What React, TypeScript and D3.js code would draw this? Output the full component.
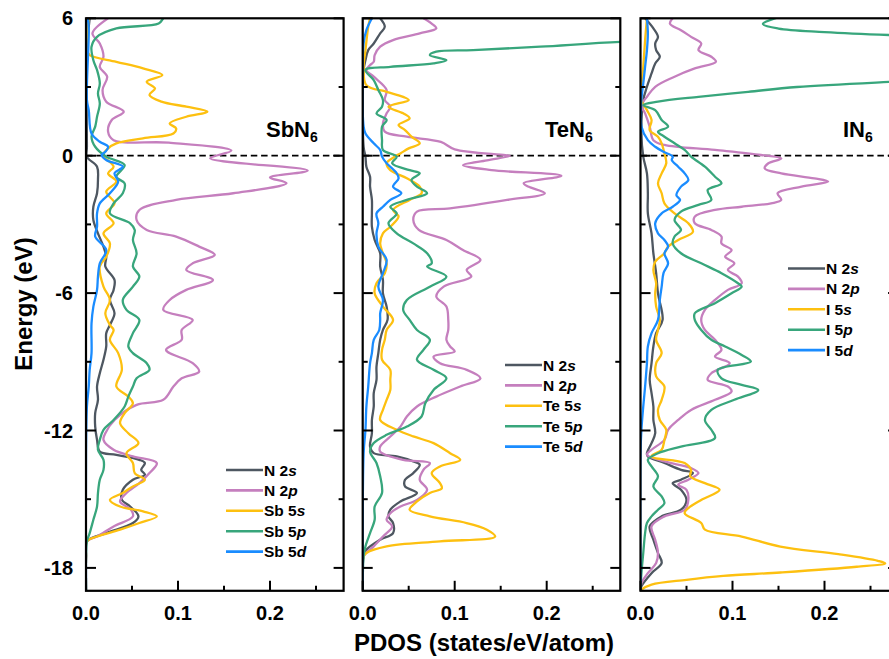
import React from 'react';
import * as d3 from 'd3';

// Each series: [energy (eV), PDOS (states/eV/atom)] listed from top to bottom
type Pt = [number, number];

// ---------- SbN6 ----------
const sbN2s: Pt[] = [[6,.004],[4.6,.001],[0.4,.001],[-0.05,.001],[-0.48,.012],[-1.06,.013],[-1.64,.012],[-2.23,.008],[-2.81,.008],[-3.39,.013],[-3.97,.019],[-4.41,.022],[-4.84,.021],[-5.43,.031],[-5.86,.030],[-6.3,.026],[-6.88,.031],[-7.39,.026],[-7.75,.022],[-8.33,.022],[-8.91,.019],[-9.5,.015],[-10.08,.012],[-10.66,.013],[-11.24,.010],[-11.83,.010],[-12.41,.012],[-12.92,.015],[-13.06,.033],[-13.28,.058],[-13.42,.064],[-13.72,.060],[-13.93,.064],[-14.15,.051],[-14.59,.040],[-15.03,.039],[-15.32,.048],[-15.75,.057],[-16.04,.051],[-16.48,.022],[-16.84,.001],[-17.5,0],[-19,0]];
const sbN2p: Pt[] = [[6,.024],[5.34,.007],[4.9,.015],[4.32,.019],[3.88,.015],[3.45,.023],[2.87,.018],[2.36,.022],[1.92,.041],[1.56,.028],[1.05,.024],[0.68,.030],[0.57,.09],[0.22,.158],[-0.11,.135],[-0.65,.241],[-0.95,.200],[-1.2,.218],[-1.64,.160],[-1.93,.098],[-2.37,.058],[-2.81,.055],[-3.24,.066],[-3.53,.098],[-3.97,.123],[-4.33,.140],[-4.70,.116],[-4.99,.109],[-5.43,.138],[-5.86,.109],[-6.3,.091],[-6.73,.084],[-7.17,.116],[-7.61,.104],[-8.04,.104],[-8.48,.087],[-9.06,.116],[-9.43,.123],[-9.72,.104],[-10.08,.095],[-10.66,.084],[-10.88,.055],[-11.54,.031],[-12.12,.021],[-12.41,.019],[-12.84,.030],[-13.13,.051],[-13.42,.077],[-13.86,.069],[-14.3,.058],[-14.73,.044],[-15.1,.037],[-15.46,.049],[-15.75,.051],[-16.19,.030],[-16.63,.012],[-16.84,.001],[-17.5,0],[-19,0]];
const sb5s: Pt[] = [[6,.003],[4.6,.001],[4.39,.004],[4.1,.033],[3.81,.062],[3.52,.083],[3.23,.066],[2.94,.075],[2.65,.069],[2.36,.082],[2.14,.109],[1.92,.132],[1.7,.109],[1.41,.091],[1.19,.098],[0.97,.095],[0.76,.062],[0.54,.033],[0.32,.024],[0.03,.019],[-0.48,.030],[-0.77,.024],[-1.13,.033],[-1.57,.022],[-2.08,.031],[-2.52,.022],[-2.95,.030],[-3.39,.019],[-3.83,.026],[-4.41,.022],[-4.84,.015],[-5.72,.019],[-6.3,.026],[-6.88,.021],[-7.39,.026],[-7.61,.030],[-8.04,.026],[-8.62,.035],[-9.35,.039],[-10.08,.033],[-10.52,.046],[-10.81,.051],[-11.24,.042],[-11.68,.037],[-12.12,.046],[-12.55,.057],[-12.99,.044],[-13.42,.051],[-13.86,.053],[-14.15,.064],[-14.44,.051],[-14.73,.040],[-15.03,.026],[-15.32,.037],[-15.53,.062],[-15.75,.077],[-16.04,.058],[-16.33,.037],[-16.63,.012],[-16.84,.001],[-17.5,0],[-19,0]];
const sb5p: Pt[] = [[6.3,.09],[6,.084],[5.77,.079],[5.56,.033],[5.19,.012],[4.76,.006],[4.17,.008],[3.74,.012],[3.16,.015],[2.72,.013],[2.28,.015],[1.7,.012],[1.27,.010],[0.83,.006],[0.39,.010],[-0.04,.022],[-0.41,.042],[-0.92,.033],[-1.21,.042],[-1.64,.040],[-2.08,.030],[-2.52,.026],[-2.95,.048],[-3.24,.053],[-3.68,.051],[-4.26,.055],[-4.84,.051],[-5.28,.058],[-5.72,.051],[-6.3,.040],[-6.73,.044],[-7.17,.058],[-7.75,.051],[-8.33,.046],[-8.62,.051],[-9.06,.066],[-9.35,.069],[-9.72,.055],[-10.08,.051],[-10.52,.046],[-10.95,.042],[-11.54,.030],[-11.97,.019],[-12.41,.015],[-12.84,.013],[-13.28,.019],[-13.72,.019],[-14.15,.015],[-14.73,.013],[-15.32,.012],[-15.9,.008],[-16.48,.004],[-16.84,.001],[-17.5,0],[-19,0]];
const sb5d: Pt[] = [[6,.002],[5.5,.003],[2.43,.001],[1.99,.003],[0.97,.006],[0.61,.015],[0.39,.024],[0.17,.021],[0.03,.017],[-0.19,.022],[-0.48,.040],[-0.77,.031],[-1.13,.035],[-1.64,.026],[-2.08,.015],[-2.52,.012],[-3.1,.012],[-3.53,.010],[-4.12,.022],[-4.7,.015],[-5.28,.013],[-5.86,.012],[-6.59,.008],[-7.32,.006],[-8.62,.006],[-9.35,.004],[-10.08,.003],[-10.95,.001],[-12.99,0],[-19,0]];

// ---------- TeN6 ----------
const teN2s: Pt[] = [[6,.019],[5.63,.024],[5.34,.019],[4.9,.012],[4.61,.006],[4.17,.003],[3.74,.001],[0.39,.001],[-0.04,.003],[-0.48,.004],[-0.92,.008],[-1.35,.008],[-1.93,.010],[-2.52,.010],[-3.1,.010],[-3.68,.013],[-4.26,.019],[-4.84,.019],[-5.43,.022],[-6.01,.022],[-6.59,.026],[-7.17,.027],[-7.61,.022],[-8.04,.019],[-8.62,.017],[-9.21,.015],[-9.79,.015],[-10.37,.012],[-10.95,.012],[-11.54,.010],[-12.12,.010],[-12.7,.008],[-12.99,.012],[-13.13,.037],[-13.35,.055],[-13.5,.062],[-13.86,.055],[-14.15,.046],[-14.44,.046],[-14.73,.059],[-15.1,.041],[-15.46,.030],[-15.75,.028],[-16.04,.033],[-16.48,.033],[-16.77,.019],[-17.21,.004],[-17.5,.001],[-19,0]];
const teN2p: Pt[] = [[6,.066],[5.77,.075],[5.56,.080],[5.34,.062],[5.05,.033],[4.76,.019],[4.39,.013],[4.1,.012],[3.96,.008],[3.74,.004],[3.45,.012],[2.87,.026],[2.43,.024],[2.14,.030],[1.85,.026],[1.41,.022],[1.05,.024],[0.83,.048],[0.6,.085],[0.28,.100],[0.03,.155],[-0.01,.160],[-0.2,.135],[-0.41,.109],[-0.63,.140],[-0.88,.216],[-1.2,.175],[-1.35,.180],[-1.64,.198],[-1.93,.157],[-2.3,.095],[-2.44,.059],[-2.81,.055],[-3.24,.061],[-3.68,.091],[-4.12,.109],[-4.55,.128],[-4.99,.113],[-5.28,.118],[-5.72,.088],[-6.15,.080],[-6.59,.091],[-7.17,.093],[-7.61,.093],[-8.04,.091],[-8.33,.095],[-8.55,.100],[-8.77,.077],[-9.06,.084],[-9.35,.113],[-9.72,.128],[-10.08,.106],[-10.52,.080],[-10.95,.059],[-11.39,.048],[-11.83,.041],[-12.26,.030],[-12.7,.019],[-12.92,.019],[-13.28,.044],[-13.42,.073],[-13.72,.066],[-14.15,.062],[-14.59,.070],[-15.03,.059],[-15.32,.041],[-15.61,.030],[-15.9,.026],[-16.19,.032],[-16.63,.022],[-17.06,.012],[-17.5,.001],[-19,0]];
const te5s: Pt[] = [[6,.008],[5.63,.006],[4.61,.003],[3.88,.001],[3.08,.004],[2.79,.026],[2.57,.044],[2.43,.050],[2.14,.028],[1.85,.044],[1.63,.051],[1.34,.039],[1.12,.046],[0.83,.053],[0.54,.062],[0.32,.050],[0.1,.041],[-0.04,.035],[-0.33,.026],[-0.63,.030],[-0.99,.048],[-1.35,.062],[-1.64,.064],[-1.93,.051],[-2.37,.033],[-2.66,.039],[-3.1,.030],[-3.39,.022],[-3.83,.019],[-4.26,.022],[-4.7,.026],[-5.13,.024],[-5.57,.015],[-6.01,.013],[-6.59,.022],[-7.17,.033],[-7.61,.026],[-8.04,.024],[-8.48,.021],[-8.91,.021],[-9.35,.030],[-9.79,.030],[-10.23,.030],[-10.66,.026],[-11.1,.022],[-11.54,.019],[-11.97,.037],[-12.26,.055],[-12.55,.077],[-12.99,.095],[-13.28,.106],[-13.57,.084],[-13.86,.075],[-14.3,.084],[-14.52,.086],[-14.73,.073],[-15.1,.059],[-15.46,.051],[-15.75,.073],[-16.04,.113],[-16.33,.135],[-16.63,.144],[-16.84,.084],[-17.06,.026],[-17.35,.004],[-17.5,.001],[-19,0]];
const te5p: Pt[] = [[6.3,.6],[5.5,.6],[5.1,.4],[4.97,.28],[4.76,.193],[4.61,.120],[4.54,.080],[4.39,.073],[4.17,.091],[4.03,.077],[3.88,.030],[3.74,.003],[3.3,.012],[2.87,.017],[2.43,.022],[2.14,.021],[1.85,.015],[1.56,.026],[1.27,.021],[0.68,.021],[0.25,.022],[-0.04,.037],[-0.33,.032],[-0.63,.051],[-0.77,.062],[-1.06,.053],[-1.35,.059],[-1.64,.070],[-1.93,.048],[-2.23,.030],[-2.52,.037],[-2.95,.028],[-3.39,.037],[-3.83,.055],[-4.26,.070],[-4.7,.075],[-4.84,.070],[-5.28,.091],[-5.72,.073],[-6.3,.048],[-6.73,.044],[-7.17,.051],[-7.61,.059],[-8.04,.073],[-8.48,.066],[-8.91,.059],[-9.35,.077],[-9.72,.091],[-10.23,.077],[-10.81,.068],[-11.39,.064],[-11.83,.048],[-12.19,.026],[-12.55,.012],[-12.92,.008],[-13.42,.015],[-14.0,.019],[-14.73,.021],[-15.32,.013],[-15.9,.013],[-16.48,.008],[-17.06,.003],[-17.5,.001],[-19,0]];
const te5d: Pt[] = [[6,.010],[5.48,.004],[4.9,.001],[1.27,.001],[0.97,.003],[0.54,.012],[0.25,.019],[-0.04,.021],[-0.33,.026],[-0.77,.037],[-0.99,.039],[-1.35,.033],[-1.64,.042],[-1.93,.030],[-2.23,.022],[-2.52,.015],[-2.95,.017],[-3.39,.015],[-3.97,.017],[-4.55,.026],[-5.13,.022],[-5.72,.017],[-6.3,.022],[-6.88,.019],[-7.17,.019],[-7.61,.018],[-8.04,.012],[-8.62,.010],[-9.06,.008],[-10.08,.006],[-10.95,.004],[-11.97,.003],[-12.99,.001],[-19,0]];

// ---------- IN6 ----------
const iN2s: Pt[] = [[6,.005],[5.56,.014],[5.19,.019],[4.9,.016],[4.61,.017],[4.32,.021],[4.03,.016],[3.59,.012],[3.01,.007],[2.43,.003],[0.97,.001],[-0.04,.003],[-0.77,.007],[-1.64,.008],[-2.52,.008],[-3.39,.012],[-4.26,.014],[-5.13,.017],[-6.01,.019],[-7.17,.024],[-7.75,.017],[-8.33,.014],[-9.06,.012],[-9.79,.010],[-10.37,.012],[-10.95,.014],[-11.54,.014],[-12.12,.016],[-12.55,.012],[-12.99,.007],[-13.13,.008],[-13.42,.026],[-13.72,.044],[-13.86,.057],[-14.15,.044],[-14.3,.035],[-14.59,.044],[-15.03,.050],[-15.46,.044],[-15.75,.023],[-16.19,.010],[-16.77,.014],[-17.35,.019],[-17.79,.023],[-18.23,.012],[-18.8,.001],[-19,0]];
const iN2p: Pt[] = [[6,.035],[5.77,.032],[5.48,.044],[5.19,.055],[4.9,.066],[4.61,.063],[4.32,.077],[4.1,.082],[3.81,.059],[3.45,.037],[3.01,.016],[2.57,.007],[2.21,.001],[1.85,.005],[1.27,.010],[0.68,.014],[0.47,.026],[0.25,.081],[0.03,.131],[-0.12,.153],[-0.33,.139],[-0.55,.135],[-0.77,.153],[-0.99,.189],[-1.13,.204],[-1.35,.175],[-1.64,.149],[-1.93,.153],[-2.08,.142],[-2.23,.110],[-2.37,.081],[-2.66,.059],[-2.95,.059],[-3.24,.077],[-3.53,.088],[-3.83,.088],[-4.12,.099],[-4.41,.092],[-4.7,.102],[-4.99,.095],[-5.28,.106],[-5.57,.110],[-5.86,.095],[-6.3,.081],[-6.73,.070],[-7.17,.066],[-7.61,.070],[-8.04,.081],[-8.48,.088],[-8.77,.081],[-9.06,.097],[-9.5,.077],[-9.79,.073],[-10.08,.095],[-10.3,.099],[-10.66,.081],[-11.1,.055],[-11.54,.041],[-11.97,.030],[-12.41,.026],[-12.84,.012],[-13.06,.007],[-13.35,.026],[-13.64,.055],[-13.86,.063],[-14.15,.052],[-14.37,.041],[-14.59,.050],[-15.03,.052],[-15.46,.048],[-15.75,.026],[-16.19,.012],[-16.77,.016],[-17.35,.019],[-17.79,.017],[-18.23,.008],[-18.66,.001],[-19,0]];
const i5s: Pt[] = [[6,.007],[5.05,.005],[3.88,.003],[2.43,.001],[1.99,.007],[1.56,.012],[1.12,.010],[0.83,.019],[0.54,.023],[0.1,.026],[-0.33,.028],[-0.77,.023],[-1.21,.019],[-1.64,.023],[-2.08,.026],[-2.52,.037],[-2.95,.052],[-3.32,.057],[-3.68,.041],[-3.97,.030],[-4.26,.026],[-4.63,.016],[-4.99,.014],[-5.57,.017],[-6.01,.016],[-6.59,.017],[-7.17,.021],[-7.61,.019],[-8.04,.017],[-8.62,.023],[-9.06,.017],[-9.64,.017],[-10.08,.026],[-10.66,.023],[-11.1,.019],[-11.54,.021],[-11.97,.028],[-12.41,.026],[-12.84,.023],[-13.13,.012],[-13.42,.048],[-13.72,.055],[-14.0,.054],[-14.3,.070],[-14.59,.086],[-15.03,.066],[-15.39,.052],[-15.61,.048],[-16.04,.066],[-16.33,.070],[-16.63,.110],[-17.07,.152],[-17.4,.215],[-17.69,.258],[-17.8,.266],[-17.95,.235],[-18.2,.152],[-18.35,.090],[-18.52,.050],[-18.73,.012],[-18.95,.001],[-19,0]];
const i5p: Pt[] = [[6.2,.17],[6,.146],[5.75,.133],[5.55,.150],[5.4,.200],[5.27,.270],[5.0,.5],[3.6,.5],[3.22,.270],[3.0,.170],[2.79,.117],[2.57,.063],[2.36,.019],[2.21,.003],[1.99,.016],[1.56,.023],[1.27,.030],[1.05,.019],[0.83,.026],[0.54,.037],[0.25,.048],[-0.04,.055],[-0.48,.070],[-0.92,.081],[-1.21,.088],[-1.5,.073],[-1.93,.077],[-2.15,.063],[-2.44,.044],[-2.81,.037],[-3.24,.044],[-3.53,.037],[-3.83,.035],[-4.26,.044],[-4.7,.066],[-5.13,.088],[-5.57,.106],[-5.72,.110],[-6.01,.099],[-6.44,.081],[-6.88,.059],[-7.17,.059],[-7.61,.066],[-8.04,.077],[-8.33,.092],[-8.7,.110],[-8.99,.120],[-9.35,.084],[-9.72,.088],[-10.01,.110],[-10.23,.128],[-10.66,.102],[-11.1,.077],[-11.54,.070],[-11.97,.077],[-12.33,.081],[-12.7,.044],[-12.99,.019],[-13.28,.008],[-13.57,.012],[-14.0,.019],[-14.44,.014],[-14.88,.023],[-15.17,.026],[-15.46,.019],[-15.75,.012],[-16.04,.007],[-16.48,.005],[-17.35,.003],[-18.23,.001],[-19,0]];
const i5d: Pt[] = [[6,.007],[5.34,.008],[4.61,.007],[3.88,.005],[3.16,.003],[2.43,.001],[1.27,.001],[0.68,.008],[0.39,.016],[0.17,.025],[-0.04,.035],[-0.19,.034],[-0.48,.041],[-0.77,.048],[-1.06,.052],[-1.35,.044],[-1.72,.039],[-1.93,.043],[-2.23,.035],[-2.52,.023],[-2.95,.016],[-3.39,.019],[-3.68,.026],[-3.97,.030],[-4.26,.026],[-4.7,.030],[-5.13,.025],[-5.72,.023],[-6.3,.021],[-7.17,.019],[-7.75,.012],[-8.33,.008],[-9.06,.007],[-10.08,.005],[-10.95,.003],[-11.97,.001],[-12.99,0],[-19,0]];

// Axis ticks
const energyMajor = [-18, -12, -6, 0, 6];
const energyMinor = [-15, -9, -3, 3];
const pdosMajor = [0, 0.1, 0.2];
const pdosMinor = [0.05, 0.15, 0.25];

// Legend entries: [plain part, italic orbital letter]
const sbLabels: [string, string][] = [['N 2', 's'], ['N 2', 'p'], ['Sb 5', 's'], ['Sb 5', 'p'], ['Sb 5', 'd']];
const teLabels: [string, string][] = [['N 2', 's'], ['N 2', 'p'], ['Te 5', 's'], ['Te 5', 'p'], ['Te 5', 'd']];
const iLabels: [string, string][] = [['N 2', 's'], ['N 2', 'p'], ['I 5', 's'], ['I 5', 'p'], ['I 5', 'd']];

const colors = ['#4e5761', '#c57fbe', '#fdc010', '#38a67c', '#1a8cff'];

const W = 889;
const H = 659;
const TOP = 18.3;
const BOTTOM = 590.8;
const PANEL_W = 257.6;
const FONT = '"Liberation Sans", Arial, Helvetica, sans-serif';

const panels = [
  { id: 'sb', left: 86, formula: 'SbN', series: [sbN2s, sbN2p, sb5s, sb5p, sb5d], labels: sbLabels, labelX: 266, legX: 226, legY: 470 },
  { id: 'te', left: 362.7, formula: 'TeN', series: [teN2s, teN2p, te5s, te5p, te5d], labels: teLabels, labelX: 545, legX: 505, legY: 365 },
  { id: 'i', left: 640.5, formula: 'IN', series: [iN2s, iN2p, i5s, i5p, i5d], labels: iLabels, labelX: 843, legX: 788, legY: 268.5 },
];

const yScale = d3.scaleLinear().domain([-19, 6]).range([BOTTOM, TOP]);

function Panel({ p, showY }: { p: typeof panels[number]; showY: boolean }) {
  const x = d3.scaleLinear().domain([0, 0.28]).range([p.left, p.left + PANEL_W]);
  const line = d3
    .line<Pt>()
    .x((d) => x(d[1]))
    .y((d) => yScale(d[0]))
    .curve(d3.curveCatmullRom.alpha(0.5));
  const right = p.left + PANEL_W;
  const rowGap = 20.4;
  return (
    <g>
      <defs>
        <clipPath id={`clip-${p.id}`}>
          <rect x={p.left} y={TOP} width={PANEL_W} height={BOTTOM - TOP} />
        </clipPath>
      </defs>
      <g clipPath={`url(#clip-${p.id})`}>
        <line x1={p.left} x2={right} y1={yScale(0)} y2={yScale(0)} stroke="#000" strokeWidth={1.7} strokeDasharray="6.5,3.8" />
        {p.series.map((s, i) => (
          <path key={i} d={line(s) || ''} fill="none" stroke={colors[i]} strokeWidth={2.3} strokeLinejoin="round" />
        ))}
      </g>
      {/* ticks pointing inward */}
      {energyMajor.map((e) => (
        <g key={`M${e}`}>
          <line x1={p.left} x2={p.left + 10} y1={yScale(e)} y2={yScale(e)} stroke="#000" strokeWidth={2} />
          <line x1={right - 10} x2={right} y1={yScale(e)} y2={yScale(e)} stroke="#000" strokeWidth={2} />
        </g>
      ))}
      {energyMinor.map((e) => (
        <g key={`m${e}`}>
          <line x1={p.left} x2={p.left + 5} y1={yScale(e)} y2={yScale(e)} stroke="#000" strokeWidth={2} />
          <line x1={right - 5} x2={right} y1={yScale(e)} y2={yScale(e)} stroke="#000" strokeWidth={2} />
        </g>
      ))}
      {pdosMajor.map((v) => (
        <g key={`X${v}`}>
          <line x1={x(v)} x2={x(v)} y1={BOTTOM} y2={BOTTOM - 10} stroke="#000" strokeWidth={2} />
          <text x={x(v)} y={620} textAnchor="middle" fontSize={20} fontWeight="bold" fontFamily={FONT}>
            {v.toFixed(1)}
          </text>
        </g>
      ))}
      {pdosMinor.map((v) => (
        <line key={`x${v}`} x1={x(v)} x2={x(v)} y1={BOTTOM} y2={BOTTOM - 5} stroke="#000" strokeWidth={2} />
      ))}
      <rect x={p.left} y={TOP} width={PANEL_W} height={BOTTOM - TOP} fill="none" stroke="#000" strokeWidth={2.2} />
      {showY &&
        energyMajor.map((e) => (
          <text key={`t${e}`} x={73} y={yScale(e) + 7} textAnchor="end" fontSize={20} fontWeight="bold" fontFamily={FONT}>
            {e}
          </text>
        ))}
      <text x={p.labelX} y={137} fontSize={22} fontWeight="bold" fontFamily={FONT}>
        {p.formula}
        <tspan fontSize={14} dy={5}>6</tspan>
      </text>
      {p.labels.map((lab, i) => {
        const yy = p.legY + i * rowGap;
        return (
          <g key={i}>
            <line x1={p.legX} x2={p.legX + 37} y1={yy} y2={yy} stroke={colors[i]} strokeWidth={2.6} />
            <text x={p.legX + 38} y={yy + 5.5} fontSize={15.5} fontWeight="bold" fontFamily={FONT}>
              {lab[0]}
              <tspan fontStyle="italic">{lab[1]}</tspan>
            </text>
          </g>
        );
      })}
    </g>
  );
}

export default function App() {
  return (
    <svg
      width={W}
      height={H}
      viewBox={`0 0 ${W} ${H}`}
      style={{ position: 'absolute', left: 0, top: 0, background: '#fff' }}
    >
      <rect x={0} y={0} width={W} height={H} fill="#fff" />
      {panels.map((p, i) => (
        <Panel key={p.id} p={p} showY={i === 0} />
      ))}
      <text x={484} y={651} textAnchor="middle" fontSize={24} fontWeight="bold" fontFamily={FONT}>
        PDOS (states/eV/atom)
      </text>
      <text
        transform={`translate(32,${304}) rotate(-90)`}
        textAnchor="middle"
        fontSize={24}
        fontWeight="bold"
        fontFamily={FONT}
      >
        Energy (eV)
      </text>
    </svg>
  );
}
